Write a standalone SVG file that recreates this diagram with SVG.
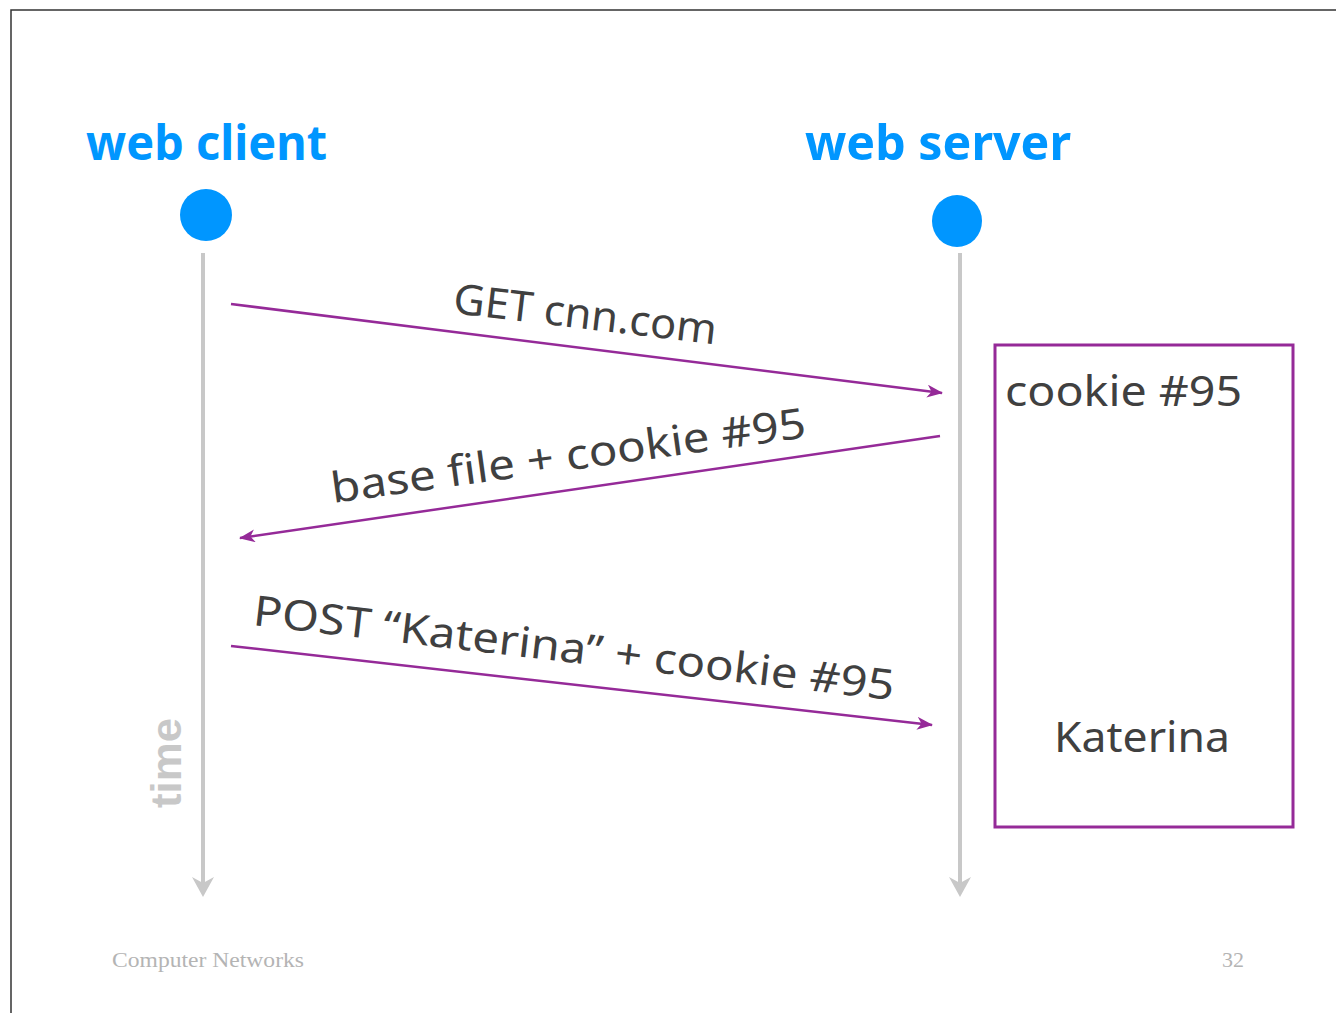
<svg xmlns="http://www.w3.org/2000/svg" width="1336" height="1013" viewBox="0 0 1336 1013">
  <style>
    .hand { font-family: "Noto Sans", "Open Sans", sans-serif; fill: #404040; }
    .head { font-family: "Noto Sans", "Open Sans", sans-serif; fill: #0096ff; font-weight: bold; }
    .msg { stroke: #952a98; stroke-width: 2.5; fill: none; }
    .life { stroke: #c8c8c8; stroke-width: 4; fill: none; }
    .foot { font-family: "Liberation Serif", serif; fill: #b4b4b4; font-size: 22px; }
  </style>
  <defs>
    <marker id="pa" markerUnits="userSpaceOnUse" markerWidth="17" markerHeight="13" refX="15" refY="6.5" orient="auto">
      <path d="M0,0 L16,6.5 L0,13 L4.5,6.5 z" fill="#952a98"/>
    </marker>
  </defs>
  <rect width="1336" height="1013" fill="#ffffff"/>
  <path d="M11,1013 L11,10 L1336,10" fill="none" stroke="#333333" stroke-width="1.5"/>

  <g id="client">
    <text class="head" x="86" y="160" font-size="48" textLength="241" lengthAdjust="spacingAndGlyphs">web client</text>
    <circle cx="206" cy="215" r="26" fill="#0096ff"/>
    <line class="life" x1="203" y1="253" x2="203" y2="885"/>
    <path d="M192,877 L203,897 L214,877 L203,883 z" fill="#c8c8c8"/>
    <text x="181" y="808" transform="rotate(-90 181 808)" font-family="Liberation Sans, Arial, sans-serif" font-weight="bold" font-size="42" fill="#c8c8c8" textLength="90" lengthAdjust="spacingAndGlyphs">time</text>
  </g>

  <g id="server">
    <text class="head" x="805" y="160" font-size="48" textLength="266" lengthAdjust="spacingAndGlyphs">web server</text>
    <ellipse cx="957" cy="221" rx="25" ry="26" fill="#0096ff"/>
    <line class="life" x1="960" y1="253" x2="960" y2="885"/>
    <path d="M949,877 L960,897 L971,877 L960,883 z" fill="#c8c8c8"/>
  </g>

  <g id="store">
    <rect x="995" y="345" width="298" height="482" fill="none" stroke="#952a98" stroke-width="3"/>
    <text class="hand" x="1005" y="406" font-size="42" textLength="237" lengthAdjust="spacingAndGlyphs">cookie #95</text>
    <text class="hand" x="1054" y="752" font-size="42" textLength="176" lengthAdjust="spacingAndGlyphs">Katerina</text>
  </g>

  <g id="connectors">
    <line class="msg" x1="231" y1="304" x2="942" y2="393" marker-end="url(#pa)"/>
    <line class="msg" x1="940" y1="436" x2="240" y2="538" marker-end="url(#pa)"/>
    <line class="msg" x1="231" y1="646" x2="932" y2="725" marker-end="url(#pa)"/>
  </g>

  <g id="labels">
    <text class="hand" font-size="42" transform="translate(452,313) rotate(6.8)" textLength="265" lengthAdjust="spacingAndGlyphs">GET cnn.com</text>
    <text class="hand" font-size="42" transform="translate(333,503) rotate(-7.9)" textLength="479" lengthAdjust="spacingAndGlyphs">base file + cookie #95</text>
    <text class="hand" font-size="42" transform="translate(252,625) rotate(6.7)" textLength="645" lengthAdjust="spacingAndGlyphs">POST “Katerina” + cookie #95</text>
  </g>

  <g id="footer">
    <text class="foot" x="112" y="967" textLength="192" lengthAdjust="spacingAndGlyphs">Computer Networks</text>
    <text class="foot" x="1222" y="967">32</text>
  </g>
</svg>
